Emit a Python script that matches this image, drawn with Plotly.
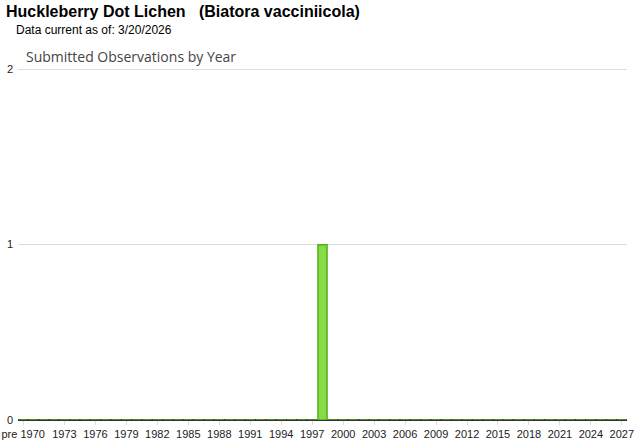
import plotly.graph_objects as go

# observation counts per year
years = ["pre 1970"] + [str(y) for y in range(1970, 2028)]
counts = [0] * len(years)
counts[years.index("1998")] = 1

tick_labels = ["pre 1970"] + [str(y) for y in range(1973, 2028, 3)]

title_text = "Huckleberry Dot Lichen   (Biatora vacciniicola)"
subtitle_text = "Data current as of: 3/20/2026"
chart_title = "Submitted Observations by Year"

fig = go.Figure(go.Bar(
    x=years,
    y=counts,
    marker=dict(color="#86dc45", line=dict(color="#52b01a", width=1.5)),
    hoverinfo="x+y",
))

fig.update_layout(
    width=640,
    height=442,
    margin=dict(l=18, r=13, t=64, b=22),
    paper_bgcolor="white",
    plot_bgcolor="white",
    bargap=0.12,
    showlegend=False,
    font=dict(family="Liberation Sans, Arial", size=11, color="#222"),
    annotations=[
        dict(text="<b>" + title_text + "</b>", xref="paper", yref="paper",
             x=-0.0235, y=1.0, xanchor="left", yanchor="bottom", yshift=42,
             showarrow=False, font=dict(size=16, color="#000")),
        dict(text=subtitle_text, xref="paper", yref="paper",
             x=-0.0065, y=1.0, xanchor="left", yanchor="bottom", yshift=25,
             showarrow=False, font=dict(size=12, color="#000")),
        dict(text=chart_title, xref="paper", yref="paper",
             x=0.01, y=1.0, xanchor="left", yanchor="bottom", yshift=-4,
             showarrow=False, font=dict(family="Open Sans", size=14, color="#444")),
    ],
)

fig.update_xaxes(
    type="category",
    tickvals=tick_labels,
    ticktext=tick_labels,
    tickangle=0,
    ticks="outside",
    ticklen=4,
    tickcolor="#ddd",
    showgrid=False,
    showline=False,
    automargin=False,
    tickfont=dict(size=11, color="#222"),
)
fig.update_yaxes(
    range=[0, 2.03],
    tickvals=[0, 1, 2],
    showgrid=True,
    gridcolor="#dcdcdc",
    gridwidth=1,
    zeroline=True,
    zerolinecolor="#333",
    zerolinewidth=2,
    automargin=False,
    tickfont=dict(size=11, color="#222"),
    ticklabelstandoff=4,
)

# drop the page's default body margin so the chart sits at the window corner
fig.write_html("out.html", config={"displayModeBar": False},
               post_script="document.body.style.margin='0px';")
